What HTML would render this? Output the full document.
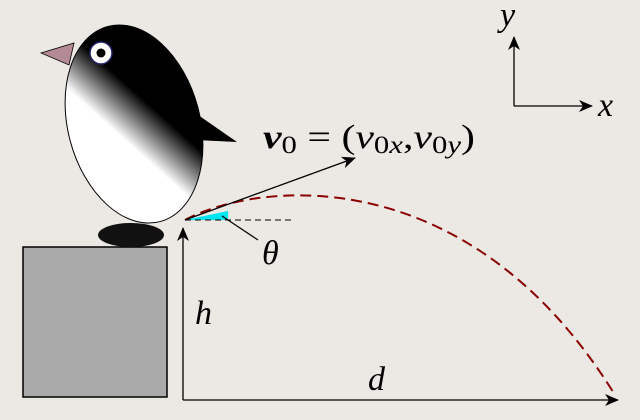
<!DOCTYPE html>
<html><head><style>
html,body{margin:0;padding:0;background:#ece9e5;}
svg{display:block}
text{font-family:"Liberation Serif","DejaVu Serif",serif;font-style:italic;fill:#000}
</style></head><body>
<svg width="640" height="420" viewBox="0 0 640 420" xmlns="http://www.w3.org/2000/svg">
<defs>
<linearGradient id="g" x1="0.1" y1="0.85" x2="0.75" y2="0.2" gradientUnits="objectBoundingBox">
<stop offset="0" stop-color="#fff"/><stop offset="0.45" stop-color="#fff"/><stop offset="0.75" stop-color="#000"/><stop offset="1" stop-color="#000"/>
</linearGradient>
<marker id="a" markerWidth="14" markerHeight="12" refX="13" refY="6" orient="auto" markerUnits="userSpaceOnUse"><path d="M0,0 L14,6 L0,12 L4,6z" fill="#000"/></marker>
</defs>
<rect x="23" y="247" width="144" height="150" fill="#aaa" stroke="#000" stroke-width="1.5"/>
<path d="M188,108 L237,142 L196,140z" fill="#000"/>
<ellipse cx="134" cy="124" rx="66" ry="101" transform="rotate(-15 134 124)" fill="url(#g)" stroke="#000" stroke-width="1"/>
<ellipse cx="131" cy="235" rx="33" ry="12" fill="#111"/>
<path d="M41,53 L74,43 L69,65z" fill="#b48a94" stroke="#000" stroke-width="0.8"/>
<circle cx="101" cy="53" r="11" fill="#fff" stroke="#226" stroke-width="1.5"/>
<circle cx="101" cy="53" r="4.5" fill="#000"/>
<path d="M185,220 L228,211 A43,43 0 0 1 228,220 Z" fill="#00e5ee"/>
<line x1="185" y1="220" x2="295" y2="220" stroke="#000" stroke-dasharray="6,4"/>
<path d="M185,220 C260,180 470,160 615,395" fill="none" stroke="#8b0000" stroke-width="2" stroke-dasharray="11,6"/>
<line x1="185" y1="220" x2="355" y2="158" stroke="#000" stroke-width="1.3" marker-end="url(#a)"/>
<line x1="222" y1="216" x2="258" y2="240" stroke="#000" stroke-width="1.2"/>
<line x1="183" y1="400" x2="183" y2="228" stroke="#000" stroke-width="1.3" marker-end="url(#a)"/>
<line x1="183" y1="400" x2="618" y2="400" stroke="#000" stroke-width="1.3" marker-end="url(#a)"/>
<line x1="514" y1="106" x2="514" y2="37" stroke="#000" stroke-width="1.3" marker-end="url(#a)"/>
<line x1="514" y1="106" x2="592" y2="106" stroke="#000" stroke-width="1.3" marker-end="url(#a)"/>
<text x="500" y="26" font-size="34">y</text>
<text x="598" y="116" font-size="34">x</text>
<text x="262" y="264" font-size="34">θ</text>
<text x="195" y="324" font-size="34">h</text>
<text x="368" y="390" font-size="34">d</text>
<text x="263" y="148" font-size="34" textLength="212" lengthAdjust="spacingAndGlyphs"><tspan font-weight="bold">v</tspan><tspan font-style="normal" font-size="25" dy="5">0</tspan><tspan font-style="normal" dy="-5"> = (</tspan><tspan>v</tspan><tspan font-style="normal" font-size="25" dy="5">0</tspan><tspan font-size="25">x</tspan><tspan font-style="normal" dy="-5">,</tspan><tspan>v</tspan><tspan font-style="normal" font-size="25" dy="5">0</tspan><tspan font-size="25">y</tspan><tspan font-style="normal" dy="-5">)</tspan></text>
</svg>
</body></html>
